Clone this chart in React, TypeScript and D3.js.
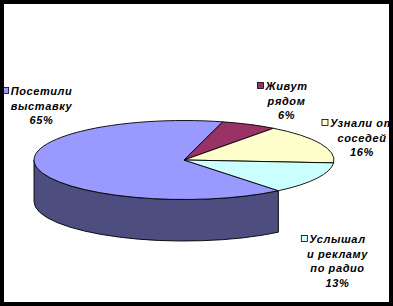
import React from "react";
import * as d3 from "d3";

const categories = ["Посетили выставку", "Живут рядом", "Узнали от соседей", "Услышали рекламу по радио"];
const values = [65, 6, 16, 13];
const labelLines = [
  ["Посетили", "выставку", "65%"],
  ["Живут", "рядом", "6%"],
  ["Узнали от", "соседей", "16%"],
  ["Услышал", "и  рекламу", "по радио", "13%"],
];

const topColors = ["#9999FF", "#993366", "#FFFFCC", "#CCFFFF"];
const sideColors = ["#4D4D80", "#4D1A33", "#808066", "#658581"];

const W = 393;
const H = 306;
const cx = 184;
const cy = 160;
const rx = 150;
const ry = 39.5;
const depth = 41.5;
const startDeg = 141;

const labelLayout = [
  { x: 41.5, y: 95 },
  { x: 286.5, y: 90 },
  { x: 362, y: 127 },
  { x: 337.5, y: 243 },
];
const lineGap = 14.6;
const FONT = "italic bold 11px 'Liberation Sans', Arial, sans-serif";
const LS = 0.6;

function measure(t: string): number {
  const c = document.createElement("canvas").getContext("2d");
  if (!c) return t.length * 6;
  c.font = FONT;
  return c.measureText(t).width + LS * t.length;
}

const px = (a: number) => cx + rx * Math.sin(a);
const py = (a: number, dy = 0) => cy - ry * Math.cos(a) + dy;

function topPath(a0: number, a1: number) {
  const large = a1 - a0 > Math.PI ? 1 : 0;
  return `M${cx},${cy}L${px(a0)},${py(a0)}A${rx},${ry} 0 ${large} 1 ${px(a1)},${py(a1)}Z`;
}

function sidePath(a0: number, a1: number) {
  const b0 = Math.max(a0, Math.PI / 2);
  const b1 = Math.min(a1, (3 * Math.PI) / 2);
  if (b1 <= b0) return null;
  return `M${px(b0)},${py(b0)}A${rx},${ry} 0 0 1 ${px(b1)},${py(b1)}L${px(b1)},${py(b1, depth)}A${rx},${ry} 0 0 0 ${px(b0)},${py(b0, depth)}Z`;
}

export default function App() {
  React.useEffect(() => {
    document.body.style.margin = "0";
  }, []);
  const s = (startDeg * Math.PI) / 180;
  const arcs = d3
    .pie<number>()
    .sort(null)
    .startAngle(s)
    .endAngle(s + 2 * Math.PI)(values);

  return (
    <svg width={W} height={H} style={{ position: "absolute", left: 0, top: 0, display: "block" }}>
      <rect x={0} y={0} width={W} height={H} fill="#fff" />
      <g stroke="#000" strokeWidth={0.9} strokeLinejoin="round">
        {arcs.map((a, i) => {
          const d = sidePath(a.startAngle, a.endAngle);
          return d ? <path key={"s" + i} d={d} fill={sideColors[i]} /> : null;
        })}
        {arcs.map((a, i) => (
          <path key={"t" + i} d={topPath(a.startAngle, a.endAngle)} fill={topColors[i]} />
        ))}
      </g>
      <g style={{ font: FONT, letterSpacing: LS + "px" }} fill="#000">
        {labelLines.map((lines, i) => {
          const L = labelLayout[i];
          const w = measure(lines[0]);
          return (
            <g key={"l" + i}>
              <rect x={L.x - w / 2 - 8} y={L.y - 7.5} width={6} height={6} fill={topColors[i]} stroke="#000" strokeWidth={0.8} />
              {lines.map((t, j) => (
                <text key={j} x={L.x} y={L.y + j * lineGap} textAnchor="middle">
                  {t}
                </text>
              ))}
            </g>
          );
        })}
      </g>
      <rect x={2} y={2} width={W - 4} height={H - 4} fill="none" stroke="#000" strokeWidth={4} />
      <title>{categories.join(", ")}</title>
    </svg>
  );
}
